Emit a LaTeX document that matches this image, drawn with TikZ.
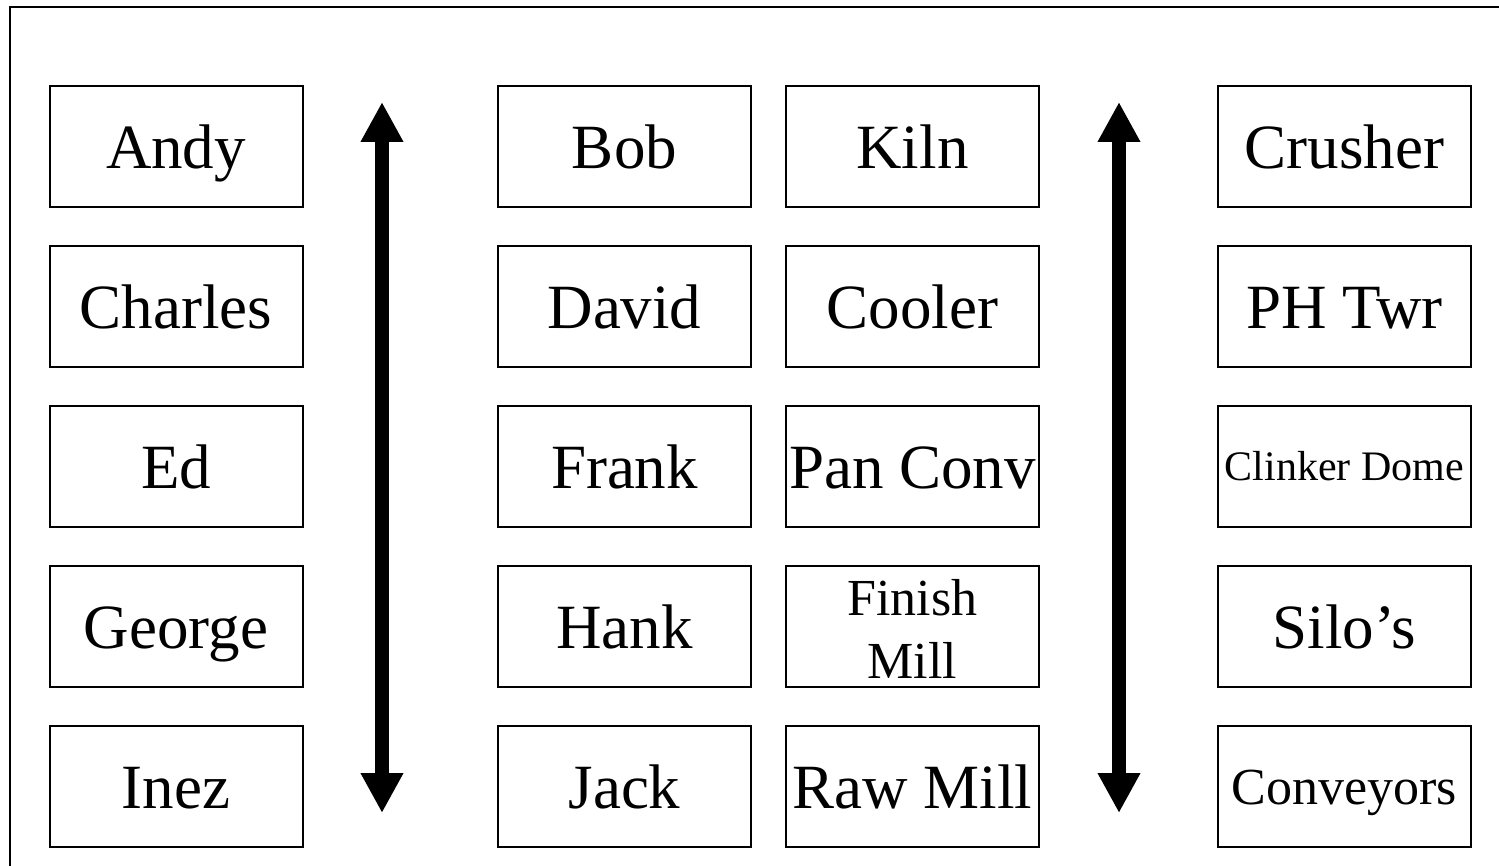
\documentclass[tikz,border=0pt]{standalone}
\usepackage{fontspec}
\setmainfont{Liberation Serif}
\usetikzlibrary{arrows.meta}
\begin{document}
\begin{tikzpicture}[x=1pt,y=-1pt,
  box/.style={draw=black, line width=2pt, minimum width=253pt, minimum height=121pt,
    inner sep=0pt, text height=44.7pt, text depth=0pt, font=\fontsize{63}{63}\selectfont},
  smalltxt/.style={text height=28.8pt, font=\fontsize{42}{42}\selectfont},
  midtxt/.style={text height=36.4pt, font=\fontsize{52}{52}\selectfont},
  bigarrow/.style={line width=14pt,
    {Triangle[width=40pt,length=40pt]}-{Triangle[width=40pt,length=40pt]}}]
\useasboundingbox (0,0) rectangle (1499,866);
\begin{scope}
  \clip (0,0) rectangle (1499,866);
  \draw[line width=2pt] (10,7) rectangle (1520,890);
\end{scope}
% staff column
\node[box] (andy)    at (176,146.5) {Andy};
\node[box] (charles) at (176,306.5) {Charles};
\node[box] (ed)      at (176,466.5) {Ed};
\node[box] (george)  at (176,626.5) {George};
\node[box] (inez)    at (176,786.5) {Inez};
% second staff column
\node[box] (bob)   at (624.5,146.5) {Bob};
\node[box] (david) at (624.5,306.5) {David};
\node[box] (frank) at (624.5,466.5) {Frank};
\node[box] (hank)  at (624.5,626.5) {Hank};
\node[box] (jack)  at (624.5,786.5) {Jack};
% equipment column
\node[box] (kiln)    at (912.5,146.5) {Kiln};
\node[box] (cooler)  at (912.5,306.5) {Cooler};
\node[box] (panconv) at (912.5,466.5) {Pan Conv};
\node[box] (finish)  at (912.5,626.5) {};
\node[midtxt, anchor=base, inner sep=0pt, text height=, text depth=] (finishA) at (912.5,615) {Finish};
\node[midtxt, anchor=base, inner sep=0pt, text height=, text depth=] (finishB) at (912.5,678) {Mill};
\node[box] (rawmill) at (912.5,786.5) {Raw Mill};
% areas column
\node[box] (crusher) at (1344.5,146.5) {Crusher};
\node[box] (phtwr)   at (1344.5,306.5) {PH Twr};
\node[box, smalltxt] (dome) at (1344.5,466.5) {Clinker Dome};
\node[box] (silos)   at (1344.5,626.5) {Silo’s};
\node[box, midtxt] (conv) at (1344.5,786.5) {Conveyors};
% double-headed arrows
\coordinate (lt) at (382,102);
\coordinate (lb) at (382,813);
\coordinate (rt) at (1119,102);
\coordinate (rb) at (1119,813);
\draw[bigarrow] (lt) -- (lb);
\draw[bigarrow] (rt) -- (rb);
\end{tikzpicture}
\end{document}
